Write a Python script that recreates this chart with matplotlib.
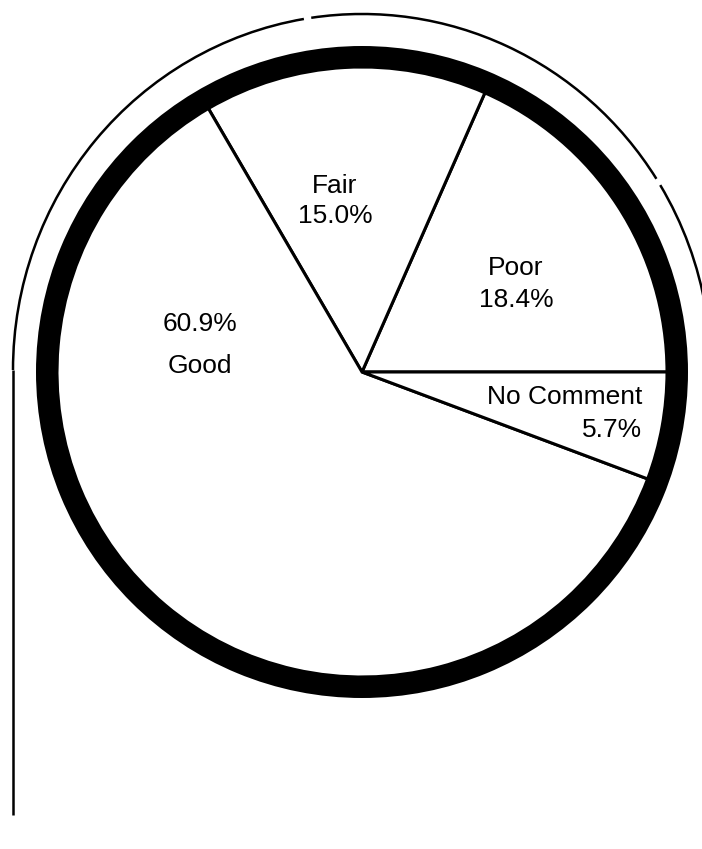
import matplotlib
matplotlib.use("Agg")
import matplotlib.pyplot as plt
from matplotlib.patches import Wedge, Arc

# survey responses, drawn counter-clockwise from 3 o'clock
labels = ["Poor", "Fair", "Good", "No Comment"]
shares = [18.4, 15.0, 60.9, 5.7]

W, H = 702, 849
fig = plt.figure(figsize=(W / 100, H / 100), dpi=100)
ax = fig.add_axes([0, 0, 1, 1])
ax.set_xlim(0, W)
ax.set_ylim(0, H)
ax.set_aspect("equal")
ax.axis("off")

cx, cy = 362, H - 372
r_in = 305
ring = 21

ax.pie(shares, startangle=0, counterclock=True, center=(cx, cy), radius=r_in,
       colors=["white"] * len(shares),
       wedgeprops=dict(edgecolor="black", linewidth=2.2))
ax.set_xlim(0, W)
ax.set_ylim(0, H)

# heavy border round the pie
ax.add_patch(Wedge((cx, cy), r_in + ring, 0, 360, width=ring,
                   facecolor="black", edgecolor="none", zorder=5))

# thin outer frame: arc over the top (drawn in pieces), then a drop on the left
for t1, t2 in [(-12, 31.8), (33.0, 98.2), (99.4, 180)]:
    ax.add_patch(Arc((cx, H - 370), 2 * 349, 2 * 356, theta1=t1, theta2=t2,
                     color="black", lw=1.8, zorder=5))
ax.plot([13, 13], [H - 370, H - 815], color="black", lw=1.8,
        solid_capstyle="butt", zorder=5)

font = dict(family=["Liberation Sans", "DejaVu Sans"], fontsize=19,
            color="black", zorder=6)
ax.text(335, H - 186, "Fair", ha="center", va="center", **font)
ax.text(335, H - 216, "15.0%", ha="center", va="center", **font)
ax.text(516, H - 268, "Poor", ha="center", va="center", **font)
ax.text(516, H - 300, "18.4%", ha="center", va="center", **font)
ax.text(200, H - 324, "60.9%", ha="center", va="center", **font)
ax.text(200, H - 366, "Good", ha="center", va="center", **font)
ax.text(642, H - 397, "No Comment", ha="right", va="center", **font)
ax.text(642, H - 430, "5.7%", ha="right", va="center", **font)

fig.savefig("out.png", dpi=100, facecolor="white")
